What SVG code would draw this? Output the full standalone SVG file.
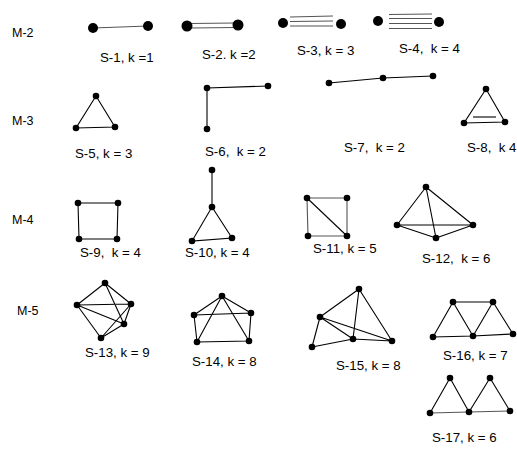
<svg xmlns="http://www.w3.org/2000/svg" width="517" height="450" viewBox="0 0 517 450">
<style>
text{font-family:"Liberation Sans",Arial,sans-serif;font-size:13.3px;fill:#000}
text.m{font-size:12.5px}
.e{stroke:#000;stroke-width:1.1;fill:none}
.g{stroke:#555;stroke-width:1.1;fill:none}
.d{fill:#000}
</style>
<rect width="517" height="450" fill="#fff"/>
<g id="row-labels">
<text class="m" x="12" y="37">M-2</text>
<text class="m" x="12" y="125">M-3</text>
<text class="m" x="12" y="224">M-4</text>
<text class="m" x="17" y="315">M-5</text>
</g>
<g id="connectors">
<line class="g" x1="93" y1="28" x2="148" y2="26"/>
<line class="g" x1="190" y1="23.5" x2="236" y2="23"/>
<line class="g" x1="190" y1="28" x2="236" y2="27.5"/>
<line class="g" x1="290" y1="17" x2="333" y2="16"/>
<line class="g" x1="290" y1="21.5" x2="333" y2="21"/>
<line class="g" x1="290" y1="26" x2="333" y2="26"/>
<line class="g" x1="389" y1="14.5" x2="432" y2="14"/>
<line class="g" x1="389" y1="18.5" x2="432" y2="18.5"/>
<line class="g" x1="389" y1="23.5" x2="432" y2="23.5"/>
<line class="g" x1="389" y1="28.5" x2="432" y2="28.5"/>
<polygon class="e" points="96,96 76,128 115,127"/>
<polyline class="e" points="207,129 207,88 268,86"/>
<polyline class="e" points="329,83 383,78 433,76"/>
<polygon class="e" points="486,89 464,123 505,122"/>
<line class="e" x1="473" y1="117" x2="496" y2="117"/>
<polygon class="e" points="78,203 118,203 117,239 79,239"/>
<line class="e" x1="212" y1="170" x2="212" y2="207"/>
<polygon class="e" points="212,207 192,241 232,238"/>
<polygon class="g" points="307,198 347,198 347,236 308,236"/>
<line class="e" x1="307" y1="198" x2="347" y2="236"/>
<path class="e" d="M426,187 L397,225 M426,187 L473,225 M426,187 L436,238 M397,225 L473,225 M397,225 L436,238 M436,238 L473,225"/>
<path class="e" d="M105,283 L77,305 M105,283 L131,304 M77,305 L131,304 M105,283 L124,324 M77,305 L124,324 M77,305 L101,338 M131,304 L124,324 M131,304 L101,338 M101,338 L124,324"/>
<path class="e" d="M222,296 L194,315 M222,296 L251,313 M194,315 L251,313 M194,315 L197,342 M251,313 L249,341 M197,342 L249,341 M222,296 L197,342 M222,296 L249,341"/>
<path class="e" d="M359,289 L320,317 M359,289 L353,339 M359,289 L392,341 M320,317 L312,347 M320,317 L353,339 M320,317 L392,341 M312,347 L353,339 M353,339 L392,341"/>
<path class="e" d="M453,302 L493,302 M433,337 L453,302 M453,302 L473,336 M473,336 L493,302 M493,302 L513,334 M433,337 L473,336 M473,336 L513,334"/>
<path class="e" d="M430,413 L450,378 M450,378 L469,412 M469,412 L490,378 M490,378 L510,411"/>
<path class="g" d="M430,413 L469,412 M469,412 L510,411"/>
</g>
<g id="S-1"><circle class="d" cx="93" cy="28" r="5"/><circle class="d" cx="148" cy="26" r="5"/><text x="100" y="62">S-1, k =1</text></g>
<g id="S-2"><circle class="d" cx="187" cy="26" r="5.5"/><circle class="d" cx="238" cy="25" r="5.5"/><text x="202" y="59">S-2. k =2</text></g>
<g id="S-3"><circle class="d" cx="283" cy="23" r="5"/><circle class="d" cx="341" cy="24" r="5"/><text x="297" y="55">S-3, k = 3</text></g>
<g id="S-4"><circle class="d" cx="378" cy="21" r="5"/><circle class="d" cx="439" cy="22" r="5"/><text x="399" y="53" xml:space="preserve">S-4,  k = 4</text></g>
<g id="S-5"><circle class="d" cx="96" cy="96" r="3.3"/><circle class="d" cx="76" cy="128" r="3.3"/><circle class="d" cx="115" cy="127" r="3.3"/><text x="75" y="158">S-5, k = 3</text></g>
<g id="S-6"><circle class="d" cx="207" cy="88" r="3.3"/><circle class="d" cx="268" cy="86" r="3.3"/><circle class="d" cx="207" cy="129" r="3.3"/><text x="205" y="156" xml:space="preserve">S-6,  k = 2</text></g>
<g id="S-7"><circle class="d" cx="329" cy="83" r="3.3"/><circle class="d" cx="383" cy="78" r="3.3"/><circle class="d" cx="433" cy="76" r="3.3"/><text x="344" y="152" xml:space="preserve">S-7,  k = 2</text></g>
<g id="S-8"><circle class="d" cx="486" cy="89" r="3.3"/><circle class="d" cx="464" cy="123" r="3.3"/><circle class="d" cx="505" cy="122" r="3.3"/><text x="467" y="152" xml:space="preserve">S-8,  k 4</text></g>
<g id="S-9"><circle class="d" cx="78" cy="203" r="3.3"/><circle class="d" cx="118" cy="203" r="3.3"/><circle class="d" cx="117" cy="239" r="3.3"/><circle class="d" cx="79" cy="239" r="3.3"/><text x="80" y="257" xml:space="preserve">S-9,  k = 4</text></g>
<g id="S-10"><circle class="d" cx="212" cy="170" r="3.3"/><circle class="d" cx="212" cy="207" r="3.3"/><circle class="d" cx="192" cy="241" r="3.3"/><circle class="d" cx="232" cy="238" r="3.3"/><text x="185" y="257">S-10, k = 4</text></g>
<g id="S-11"><circle class="d" cx="307" cy="198" r="3.3"/><circle class="d" cx="347" cy="198" r="3.3"/><circle class="d" cx="308" cy="236" r="3.3"/><circle class="d" cx="347" cy="236" r="3.3"/><text x="313" y="253">S-11, k = 5</text></g>
<g id="S-12"><circle class="d" cx="426" cy="187" r="3.3"/><circle class="d" cx="397" cy="225" r="3.3"/><circle class="d" cx="473" cy="225" r="3.3"/><circle class="d" cx="436" cy="238" r="3.3"/><text x="422" y="263" xml:space="preserve">S-12,  k = 6</text></g>
<g id="S-13"><circle class="d" cx="105" cy="283" r="3.3"/><circle class="d" cx="77" cy="305" r="3.3"/><circle class="d" cx="131" cy="304" r="3.3"/><circle class="d" cx="124" cy="324" r="3.3"/><circle class="d" cx="101" cy="338" r="3.3"/><text x="85" y="357">S-13, k = 9</text></g>
<g id="S-14"><circle class="d" cx="222" cy="296" r="3.3"/><circle class="d" cx="194" cy="315" r="3.3"/><circle class="d" cx="251" cy="313" r="3.3"/><circle class="d" cx="197" cy="342" r="3.3"/><circle class="d" cx="249" cy="341" r="3.3"/><text x="192" y="366">S-14, k = 8</text></g>
<g id="S-15"><circle class="d" cx="359" cy="289" r="3.3"/><circle class="d" cx="320" cy="317" r="3.3"/><circle class="d" cx="312" cy="347" r="3.3"/><circle class="d" cx="353" cy="339" r="3.3"/><circle class="d" cx="392" cy="341" r="3.3"/><text x="336" y="370">S-15, k = 8</text></g>
<g id="S-16"><circle class="d" cx="453" cy="302" r="3.3"/><circle class="d" cx="493" cy="302" r="3.3"/><circle class="d" cx="433" cy="337" r="3.3"/><circle class="d" cx="473" cy="336" r="3.3"/><circle class="d" cx="513" cy="334" r="3.3"/><text x="443" y="360">S-16, k = 7</text></g>
<g id="S-17"><circle class="d" cx="450" cy="378" r="3.3"/><circle class="d" cx="490" cy="378" r="3.3"/><circle class="d" cx="430" cy="413" r="3.3"/><circle class="d" cx="469" cy="412" r="3.3"/><circle class="d" cx="510" cy="411" r="3.3"/><text x="432" y="442">S-17, k = 6</text></g>
</svg>
